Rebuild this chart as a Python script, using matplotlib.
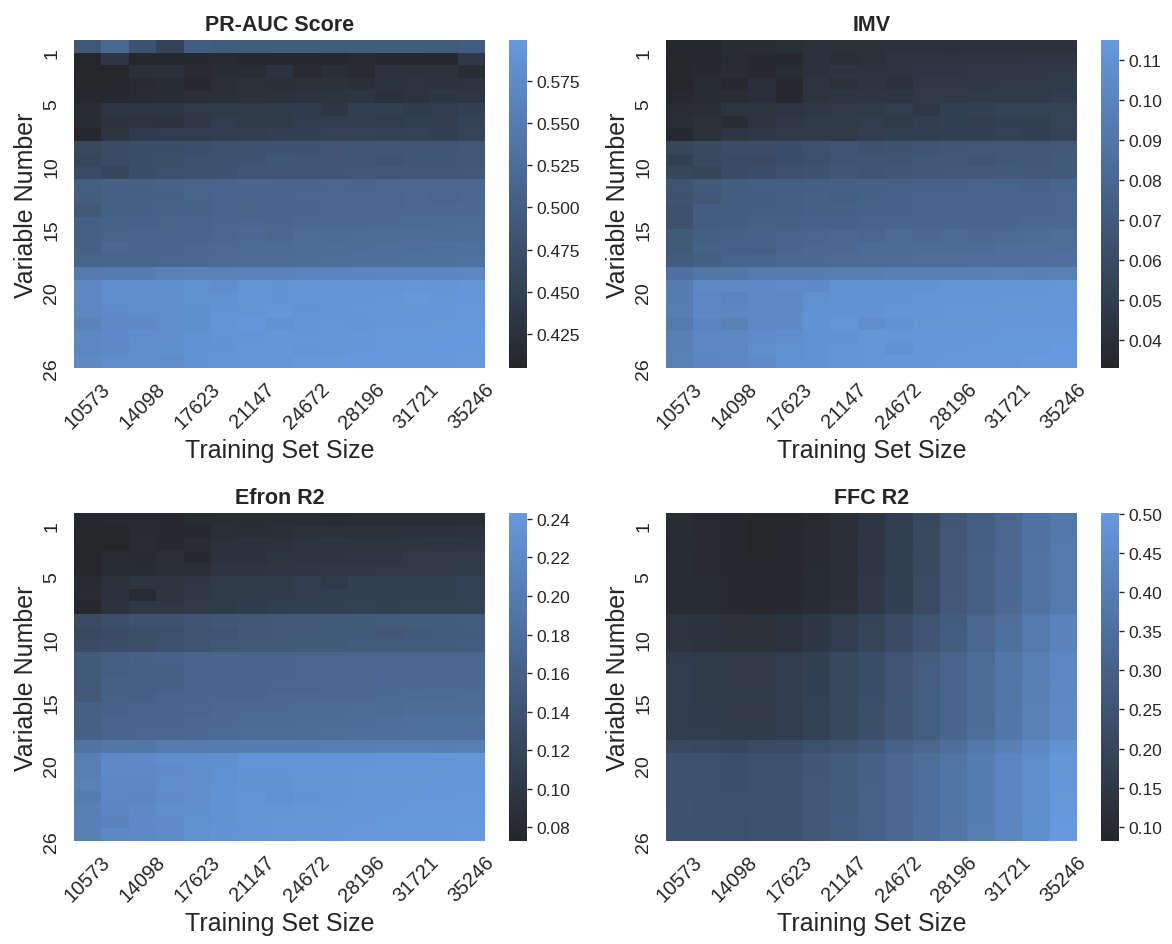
import matplotlib
matplotlib.use("Agg")
import matplotlib.pyplot as plt
import seaborn as sns
import pandas as pd

# training set sizes (columns) and variable numbers (rows)
train_sizes = [10573, 12335, 14098, 15860, 17623, 19385, 21147, 22910,
               24672, 26434, 28196, 29959, 31721, 33484, 35246]
var_numbers = list(range(1, 27))
var_ticks = [1, 5, 10, 15, 20, 26]

pr_auc = [
    [0.487, 0.515, 0.480, 0.455, 0.497, 0.494, 0.495, 0.495, 0.496, 0.494, 0.495, 0.496, 0.495, 0.494, 0.497],
    [0.405, 0.432, 0.408, 0.410, 0.411, 0.413, 0.409, 0.412, 0.411, 0.410, 0.413, 0.412, 0.411, 0.410, 0.436],
    [0.407, 0.406, 0.422, 0.424, 0.413, 0.416, 0.418, 0.427, 0.414, 0.421, 0.413, 0.428, 0.426, 0.425, 0.417],
    [0.408, 0.407, 0.414, 0.418, 0.410, 0.420, 0.424, 0.422, 0.424, 0.426, 0.423, 0.427, 0.430, 0.428, 0.430],
    [0.410, 0.409, 0.415, 0.418, 0.420, 0.422, 0.426, 0.426, 0.428, 0.430, 0.432, 0.424, 0.430, 0.434, 0.432],
    [0.416, 0.433, 0.432, 0.433, 0.438, 0.440, 0.438, 0.440, 0.442, 0.434, 0.447, 0.448, 0.442, 0.444, 0.450],
    [0.418, 0.428, 0.430, 0.428, 0.436, 0.443, 0.440, 0.440, 0.444, 0.445, 0.446, 0.444, 0.448, 0.446, 0.452],
    [0.410, 0.430, 0.442, 0.443, 0.444, 0.446, 0.446, 0.450, 0.450, 0.452, 0.455, 0.451, 0.452, 0.450, 0.456],
    [0.463, 0.470, 0.472, 0.472, 0.475, 0.478, 0.480, 0.482, 0.482, 0.484, 0.486, 0.486, 0.485, 0.485, 0.488],
    [0.460, 0.470, 0.472, 0.474, 0.478, 0.480, 0.482, 0.486, 0.484, 0.485, 0.486, 0.482, 0.486, 0.486, 0.488],
    [0.468, 0.460, 0.472, 0.476, 0.480, 0.482, 0.486, 0.484, 0.485, 0.486, 0.487, 0.488, 0.488, 0.487, 0.490],
    [0.500, 0.504, 0.505, 0.506, 0.508, 0.510, 0.512, 0.512, 0.512, 0.514, 0.512, 0.514, 0.515, 0.515, 0.516],
    [0.498, 0.502, 0.505, 0.504, 0.508, 0.511, 0.510, 0.512, 0.513, 0.514, 0.515, 0.514, 0.516, 0.514, 0.516],
    [0.490, 0.505, 0.504, 0.506, 0.506, 0.510, 0.508, 0.510, 0.512, 0.515, 0.516, 0.515, 0.516, 0.518, 0.518],
    [0.502, 0.506, 0.507, 0.508, 0.510, 0.513, 0.515, 0.514, 0.516, 0.516, 0.517, 0.518, 0.520, 0.520, 0.522],
    [0.505, 0.508, 0.510, 0.510, 0.512, 0.515, 0.518, 0.515, 0.522, 0.520, 0.522, 0.522, 0.524, 0.522, 0.524],
    [0.505, 0.515, 0.510, 0.512, 0.516, 0.518, 0.520, 0.520, 0.522, 0.524, 0.524, 0.526, 0.527, 0.530, 0.530],
    [0.508, 0.510, 0.512, 0.514, 0.518, 0.520, 0.522, 0.522, 0.525, 0.526, 0.528, 0.528, 0.530, 0.530, 0.532],
    [0.548, 0.550, 0.552, 0.558, 0.560, 0.560, 0.562, 0.562, 0.564, 0.564, 0.565, 0.566, 0.566, 0.566, 0.568],
    [0.568, 0.580, 0.580, 0.582, 0.584, 0.580, 0.590, 0.588, 0.590, 0.590, 0.591, 0.590, 0.592, 0.591, 0.593],
    [0.568, 0.578, 0.578, 0.580, 0.583, 0.586, 0.590, 0.589, 0.590, 0.591, 0.591, 0.592, 0.595, 0.592, 0.594],
    [0.570, 0.576, 0.578, 0.579, 0.582, 0.588, 0.590, 0.593, 0.589, 0.590, 0.592, 0.592, 0.593, 0.594, 0.595],
    [0.562, 0.574, 0.572, 0.578, 0.582, 0.590, 0.594, 0.586, 0.590, 0.592, 0.591, 0.593, 0.594, 0.595, 0.596],
    [0.568, 0.575, 0.580, 0.580, 0.585, 0.588, 0.590, 0.592, 0.592, 0.593, 0.593, 0.595, 0.596, 0.596, 0.597],
    [0.570, 0.572, 0.580, 0.581, 0.587, 0.589, 0.592, 0.593, 0.590, 0.592, 0.594, 0.596, 0.596, 0.597, 0.598],
    [0.571, 0.578, 0.580, 0.579, 0.588, 0.590, 0.592, 0.592, 0.595, 0.595, 0.596, 0.597, 0.598, 0.598, 0.599],
]

imv = [
    [0.035, 0.035, 0.038, 0.038, 0.040, 0.041, 0.041, 0.041, 0.042, 0.042, 0.041, 0.042, 0.042, 0.042, 0.042],
    [0.034, 0.035, 0.037, 0.036, 0.035, 0.042, 0.040, 0.041, 0.043, 0.043, 0.043, 0.044, 0.044, 0.045, 0.045],
    [0.034, 0.036, 0.038, 0.036, 0.038, 0.042, 0.044, 0.043, 0.043, 0.045, 0.045, 0.046, 0.046, 0.046, 0.047],
    [0.033, 0.037, 0.035, 0.040, 0.036, 0.043, 0.041, 0.044, 0.042, 0.046, 0.046, 0.046, 0.047, 0.047, 0.048],
    [0.035, 0.037, 0.038, 0.040, 0.036, 0.043, 0.045, 0.045, 0.045, 0.047, 0.047, 0.048, 0.048, 0.048, 0.049],
    [0.038, 0.039, 0.043, 0.043, 0.045, 0.046, 0.047, 0.048, 0.049, 0.046, 0.052, 0.052, 0.053, 0.053, 0.054],
    [0.039, 0.041, 0.038, 0.043, 0.046, 0.048, 0.048, 0.049, 0.048, 0.050, 0.052, 0.050, 0.052, 0.051, 0.055],
    [0.036, 0.041, 0.045, 0.046, 0.047, 0.047, 0.047, 0.050, 0.051, 0.051, 0.052, 0.052, 0.053, 0.052, 0.054],
    [0.056, 0.058, 0.061, 0.061, 0.062, 0.064, 0.066, 0.064, 0.065, 0.066, 0.067, 0.068, 0.068, 0.068, 0.069],
    [0.052, 0.058, 0.060, 0.060, 0.062, 0.063, 0.066, 0.066, 0.066, 0.068, 0.068, 0.066, 0.068, 0.068, 0.070],
    [0.056, 0.055, 0.060, 0.062, 0.064, 0.065, 0.067, 0.066, 0.067, 0.068, 0.069, 0.069, 0.070, 0.069, 0.070],
    [0.066, 0.070, 0.072, 0.073, 0.073, 0.074, 0.075, 0.075, 0.075, 0.076, 0.076, 0.077, 0.077, 0.076, 0.078],
    [0.065, 0.068, 0.072, 0.072, 0.074, 0.075, 0.074, 0.075, 0.076, 0.077, 0.077, 0.078, 0.078, 0.078, 0.079],
    [0.064, 0.072, 0.072, 0.073, 0.074, 0.075, 0.075, 0.076, 0.076, 0.077, 0.077, 0.078, 0.078, 0.078, 0.079],
    [0.064, 0.072, 0.072, 0.075, 0.075, 0.076, 0.076, 0.077, 0.077, 0.078, 0.078, 0.079, 0.079, 0.080, 0.080],
    [0.070, 0.074, 0.075, 0.076, 0.078, 0.079, 0.080, 0.079, 0.082, 0.080, 0.082, 0.081, 0.082, 0.083, 0.084],
    [0.070, 0.076, 0.076, 0.075, 0.079, 0.080, 0.080, 0.082, 0.082, 0.083, 0.083, 0.083, 0.084, 0.084, 0.084],
    [0.071, 0.074, 0.077, 0.078, 0.080, 0.081, 0.082, 0.083, 0.083, 0.084, 0.084, 0.085, 0.085, 0.085, 0.086],
    [0.086, 0.090, 0.090, 0.094, 0.094, 0.095, 0.096, 0.096, 0.097, 0.097, 0.097, 0.097, 0.098, 0.097, 0.098],
    [0.095, 0.104, 0.104, 0.105, 0.106, 0.105, 0.110, 0.110, 0.110, 0.110, 0.111, 0.111, 0.111, 0.111, 0.112],
    [0.095, 0.102, 0.100, 0.104, 0.104, 0.108, 0.110, 0.110, 0.110, 0.111, 0.111, 0.111, 0.112, 0.112, 0.112],
    [0.096, 0.103, 0.102, 0.104, 0.104, 0.109, 0.110, 0.110, 0.111, 0.111, 0.112, 0.112, 0.112, 0.112, 0.113],
    [0.092, 0.100, 0.098, 0.104, 0.104, 0.110, 0.112, 0.107, 0.110, 0.112, 0.112, 0.112, 0.113, 0.113, 0.113],
    [0.097, 0.102, 0.103, 0.106, 0.107, 0.109, 0.110, 0.112, 0.112, 0.113, 0.113, 0.113, 0.114, 0.114, 0.114],
    [0.097, 0.102, 0.102, 0.107, 0.108, 0.110, 0.111, 0.112, 0.109, 0.113, 0.113, 0.114, 0.114, 0.114, 0.115],
    [0.098, 0.101, 0.103, 0.106, 0.109, 0.110, 0.111, 0.112, 0.113, 0.113, 0.114, 0.114, 0.114, 0.115, 0.115],
]

efron_r2 = [
    [0.076, 0.078, 0.080, 0.079, 0.082, 0.083, 0.083, 0.084, 0.083, 0.082, 0.084, 0.083, 0.084, 0.084, 0.085],
    [0.075, 0.074, 0.080, 0.079, 0.076, 0.086, 0.085, 0.086, 0.090, 0.090, 0.090, 0.091, 0.092, 0.092, 0.093],
    [0.075, 0.073, 0.082, 0.078, 0.083, 0.090, 0.092, 0.091, 0.094, 0.096, 0.094, 0.094, 0.096, 0.097, 0.098],
    [0.074, 0.082, 0.080, 0.086, 0.079, 0.092, 0.092, 0.095, 0.096, 0.096, 0.097, 0.097, 0.101, 0.102, 0.103],
    [0.075, 0.083, 0.082, 0.087, 0.086, 0.095, 0.096, 0.098, 0.099, 0.100, 0.100, 0.101, 0.102, 0.103, 0.104],
    [0.080, 0.090, 0.095, 0.094, 0.099, 0.103, 0.104, 0.104, 0.106, 0.101, 0.112, 0.112, 0.110, 0.111, 0.113],
    [0.082, 0.092, 0.082, 0.095, 0.100, 0.104, 0.104, 0.105, 0.107, 0.110, 0.110, 0.112, 0.112, 0.112, 0.114],
    [0.077, 0.093, 0.100, 0.102, 0.103, 0.104, 0.106, 0.110, 0.111, 0.112, 0.113, 0.112, 0.114, 0.113, 0.115],
    [0.128, 0.134, 0.138, 0.138, 0.142, 0.144, 0.146, 0.148, 0.148, 0.150, 0.150, 0.152, 0.152, 0.152, 0.154],
    [0.124, 0.130, 0.134, 0.136, 0.140, 0.142, 0.146, 0.148, 0.148, 0.150, 0.150, 0.146, 0.150, 0.151, 0.152],
    [0.130, 0.132, 0.134, 0.138, 0.142, 0.146, 0.148, 0.148, 0.150, 0.150, 0.152, 0.152, 0.153, 0.153, 0.154],
    [0.150, 0.156, 0.160, 0.162, 0.164, 0.166, 0.166, 0.167, 0.168, 0.168, 0.168, 0.169, 0.168, 0.169, 0.170],
    [0.150, 0.155, 0.158, 0.160, 0.164, 0.166, 0.166, 0.167, 0.168, 0.169, 0.170, 0.170, 0.170, 0.171, 0.171],
    [0.148, 0.158, 0.158, 0.160, 0.164, 0.166, 0.167, 0.168, 0.168, 0.170, 0.170, 0.171, 0.171, 0.172, 0.172],
    [0.148, 0.160, 0.160, 0.164, 0.166, 0.168, 0.168, 0.170, 0.170, 0.171, 0.171, 0.173, 0.174, 0.174, 0.175],
    [0.158, 0.162, 0.164, 0.165, 0.168, 0.170, 0.172, 0.172, 0.174, 0.174, 0.176, 0.174, 0.178, 0.178, 0.178],
    [0.158, 0.166, 0.166, 0.167, 0.170, 0.172, 0.174, 0.174, 0.176, 0.177, 0.178, 0.179, 0.180, 0.182, 0.182],
    [0.160, 0.164, 0.168, 0.169, 0.172, 0.174, 0.176, 0.177, 0.178, 0.179, 0.180, 0.181, 0.182, 0.182, 0.183],
    [0.186, 0.192, 0.192, 0.198, 0.198, 0.200, 0.201, 0.202, 0.202, 0.203, 0.203, 0.204, 0.204, 0.203, 0.205],
    [0.205, 0.220, 0.222, 0.226, 0.228, 0.228, 0.235, 0.235, 0.236, 0.236, 0.236, 0.237, 0.237, 0.238, 0.238],
    [0.205, 0.220, 0.220, 0.224, 0.226, 0.230, 0.234, 0.234, 0.236, 0.236, 0.237, 0.237, 0.237, 0.238, 0.239],
    [0.207, 0.218, 0.218, 0.225, 0.226, 0.231, 0.234, 0.232, 0.235, 0.236, 0.237, 0.238, 0.238, 0.239, 0.239],
    [0.200, 0.216, 0.214, 0.224, 0.226, 0.232, 0.236, 0.230, 0.234, 0.236, 0.237, 0.238, 0.238, 0.239, 0.240],
    [0.204, 0.215, 0.220, 0.226, 0.228, 0.232, 0.235, 0.236, 0.237, 0.237, 0.238, 0.239, 0.240, 0.240, 0.240],
    [0.206, 0.210, 0.222, 0.224, 0.229, 0.233, 0.236, 0.237, 0.237, 0.238, 0.239, 0.241, 0.241, 0.241, 0.242],
    [0.206, 0.218, 0.221, 0.224, 0.230, 0.234, 0.236, 0.237, 0.238, 0.239, 0.240, 0.241, 0.242, 0.242, 0.243],
]

ffc_r2 = [
    [0.106, 0.100, 0.090, 0.086, 0.088, 0.100, 0.116, 0.142, 0.172, 0.208, 0.258, 0.288, 0.318, 0.356, 0.380],
    [0.105, 0.100, 0.091, 0.084, 0.090, 0.101, 0.117, 0.144, 0.174, 0.210, 0.259, 0.290, 0.320, 0.358, 0.382],
    [0.104, 0.099, 0.090, 0.082, 0.091, 0.100, 0.118, 0.145, 0.175, 0.210, 0.260, 0.291, 0.320, 0.360, 0.384],
    [0.105, 0.100, 0.092, 0.088, 0.092, 0.101, 0.118, 0.146, 0.176, 0.211, 0.261, 0.292, 0.322, 0.361, 0.386],
    [0.106, 0.101, 0.093, 0.089, 0.093, 0.102, 0.119, 0.147, 0.177, 0.212, 0.262, 0.293, 0.323, 0.362, 0.387],
    [0.107, 0.102, 0.094, 0.090, 0.094, 0.103, 0.120, 0.148, 0.178, 0.213, 0.263, 0.294, 0.324, 0.363, 0.388],
    [0.108, 0.103, 0.095, 0.091, 0.095, 0.104, 0.121, 0.149, 0.179, 0.214, 0.264, 0.295, 0.325, 0.364, 0.389],
    [0.108, 0.104, 0.096, 0.092, 0.096, 0.105, 0.122, 0.150, 0.180, 0.215, 0.265, 0.296, 0.326, 0.365, 0.390],
    [0.135, 0.130, 0.124, 0.124, 0.130, 0.145, 0.165, 0.190, 0.220, 0.250, 0.280, 0.315, 0.350, 0.385, 0.420],
    [0.136, 0.131, 0.125, 0.125, 0.131, 0.146, 0.166, 0.191, 0.221, 0.251, 0.281, 0.316, 0.351, 0.386, 0.421],
    [0.137, 0.132, 0.126, 0.126, 0.132, 0.147, 0.167, 0.192, 0.222, 0.252, 0.282, 0.317, 0.352, 0.387, 0.422],
    [0.162, 0.158, 0.153, 0.153, 0.163, 0.178, 0.203, 0.228, 0.253, 0.283, 0.308, 0.338, 0.372, 0.406, 0.436],
    [0.163, 0.158, 0.154, 0.154, 0.164, 0.179, 0.204, 0.229, 0.254, 0.284, 0.309, 0.339, 0.373, 0.407, 0.437],
    [0.164, 0.159, 0.154, 0.154, 0.164, 0.179, 0.204, 0.229, 0.254, 0.284, 0.310, 0.340, 0.374, 0.408, 0.438],
    [0.165, 0.160, 0.155, 0.155, 0.165, 0.180, 0.205, 0.230, 0.255, 0.285, 0.310, 0.340, 0.375, 0.410, 0.440],
    [0.166, 0.161, 0.156, 0.156, 0.166, 0.181, 0.206, 0.231, 0.256, 0.286, 0.311, 0.341, 0.376, 0.411, 0.441],
    [0.167, 0.162, 0.157, 0.157, 0.167, 0.182, 0.207, 0.232, 0.257, 0.287, 0.312, 0.342, 0.377, 0.412, 0.443],
    [0.168, 0.163, 0.158, 0.158, 0.168, 0.183, 0.208, 0.233, 0.258, 0.288, 0.313, 0.343, 0.378, 0.413, 0.444],
    [0.210, 0.205, 0.200, 0.215, 0.220, 0.235, 0.250, 0.270, 0.300, 0.320, 0.350, 0.380, 0.410, 0.440, 0.475],
    [0.242, 0.238, 0.233, 0.238, 0.243, 0.258, 0.278, 0.298, 0.318, 0.343, 0.368, 0.398, 0.428, 0.458, 0.488],
    [0.243, 0.238, 0.233, 0.238, 0.243, 0.258, 0.278, 0.298, 0.318, 0.344, 0.369, 0.399, 0.429, 0.459, 0.489],
    [0.244, 0.239, 0.234, 0.239, 0.244, 0.259, 0.279, 0.299, 0.319, 0.344, 0.369, 0.399, 0.429, 0.459, 0.490],
    [0.244, 0.240, 0.235, 0.240, 0.245, 0.260, 0.280, 0.300, 0.320, 0.345, 0.370, 0.400, 0.430, 0.460, 0.492],
    [0.245, 0.240, 0.235, 0.240, 0.245, 0.260, 0.280, 0.300, 0.320, 0.345, 0.370, 0.400, 0.431, 0.461, 0.494],
    [0.246, 0.241, 0.236, 0.241, 0.246, 0.261, 0.281, 0.301, 0.321, 0.346, 0.371, 0.401, 0.432, 0.462, 0.497],
    [0.247, 0.242, 0.237, 0.242, 0.247, 0.262, 0.282, 0.302, 0.322, 0.347, 0.372, 0.402, 0.433, 0.463, 0.501],
]

titles = ["PR-AUC Score", "IMV", "Efron R2", "FFC R2"]
panels = [pr_auc, imv, efron_r2, ffc_r2]

sns.set_theme(style="white")
plt.rcParams['font.family'] = ['Liberation Sans', 'DejaVu Sans']

cmap = sns.dark_palette("#69d", as_cmap=True)

W, H = 1172, 945
fig = plt.figure(figsize=(W / 100, H / 100), dpi=100)

# pixel boxes: (left, top) of heatmap, colorbar left
boxes = [(74, 41, 509), (666, 41, 1101), (74, 514, 509), (666, 514, 1101)]
hm_w, hm_h, cb_w = 411, 328, 18

for (x0, y0, cx), data, title in zip(boxes, panels, titles):
    ax = fig.add_axes([x0 / W, 1 - (y0 + hm_h) / H, hm_w / W, hm_h / H])
    cax = fig.add_axes([cx / W, 1 - (y0 + hm_h) / H, cb_w / W, hm_h / H])
    df = pd.DataFrame(data, index=var_numbers, columns=train_sizes)
    sns.heatmap(df, ax=ax, cbar_ax=cax, cmap=cmap, xticklabels=2)
    ax.set_yticks(var_ticks)
    ax.set_yticklabels(var_ticks, rotation=90, va='center', fontsize=14)
    ax.tick_params(axis='x', rotation=45, labelsize=14.5, pad=8)
    ax.tick_params(axis='y', pad=10)
    ax.tick_params(length=0)
    ax.set_xlabel("Training Set Size", fontsize=18)
    ax.set_ylabel("Variable Number", fontsize=18, labelpad=4)
    ax.set_title(title, fontsize=15.5, fontweight='bold', pad=7)
    cax.tick_params(labelsize=12.5, length=3.5, width=1)

fig.savefig("out.png", dpi=100)
